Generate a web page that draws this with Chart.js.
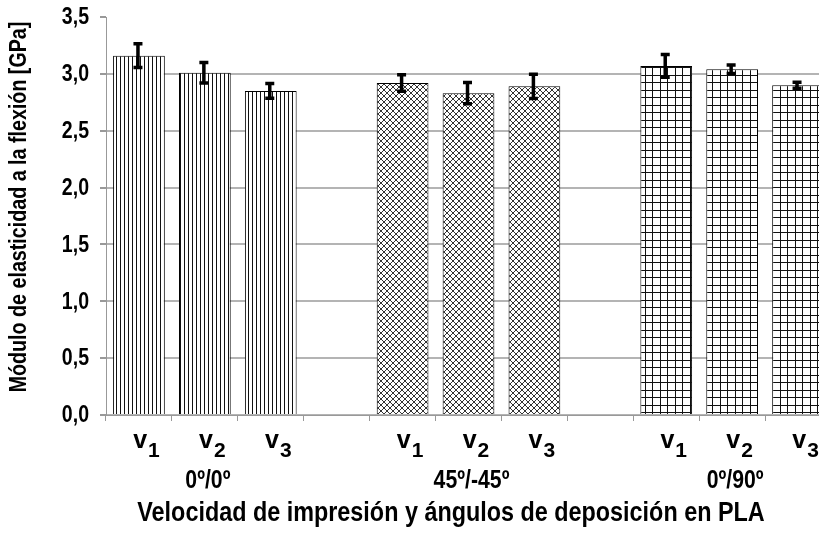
<!DOCTYPE html>
<html>
<head>
<meta charset="utf-8">
<script src="https://cdn.jsdelivr.net/npm/chart.js@4.4.0/dist/chart.umd.min.js"></script>
<style>
    html, body { margin: 0; padding: 0; background: #fff; overflow: hidden; }
    #marco { width: 840px; height: 537px; }
</style>
</head>
<body>
<div id="marco"><canvas id="grafico" width="840" height="537"></canvas></div>
<script>
// categorias del eje x (vacias = separacion entre grupos)
var categorias = ['v1', 'v2', 'v3', '', 'v1', 'v2', 'v3', '', 'v1', 'v2', 'v3'];
var grupos = ['0º/0º', '45º/-45º', '0º/90º'];
var centroGrupos = [1, 5, 9];
// modulo medio [GPa] y desviacion
var modulo = [3.16, 3.01, 2.85, null, 2.92, 2.83, 2.89, null, 3.07, 3.04, 2.90];
var desviacion = [0.105, 0.09, 0.065, null, 0.073, 0.093, 0.107, null, 0.10, 0.037, 0.027];
var ticksY = [0, 0.5, 1, 1.5, 2, 2.5, 3, 3.5];
var tituloY = 'Módulo de elasticidad a la flexión [GPa]';
var tituloX = 'Velocidad de impresión y ángulos de deposición en PLA';

var fuente = '"Liberation Sans", Arial, sans-serif';

function trama(tipo) {
    var c = document.createElement('canvas');
    var g = c.getContext('2d');
    if (tipo == 'vertical') {
        c.width = 4; c.height = 4;
        g.fillStyle = '#fff'; g.fillRect(0, 0, 4, 4);
        g.fillStyle = '#111'; g.fillRect(0, 0, 1, 4);
    } else if (tipo == 'cruzada') {
        c.width = 6; c.height = 6;
        g.fillStyle = '#fff'; g.fillRect(0, 0, 6, 6);
        g.fillStyle = '#333';
        for (var i = 0; i < 6; i++) {
            g.fillRect(i, i, 1, 1);
            g.fillRect(5 - i, i, 1, 1);
        }
    } else {
        c.width = 15; c.height = 15;
        g.fillStyle = '#fff'; g.fillRect(0, 0, 15, 15);
        g.fillStyle = '#111';
        g.fillRect(0, 0, 1, 15); g.fillRect(7, 0, 1, 15);
        g.fillRect(0, 0, 15, 1); g.fillRect(0, 7, 15, 1);
    }
    return g.createPattern(c, 'repeat');
}

var tipos = ['vertical', 'cruzada', 'cuadricula'];
var rellenos = categorias.map(function(c, i) {
    return trama(tipos[Math.floor(i / 4)]);
});

// texto algo estrecho, como la letra condensada de la figura original
function texto(ctx, txt, x, y, alin, escala) {
    ctx.save();
    ctx.translate(x, y);
    ctx.scale(escala, 1);
    ctx.textAlign = alin;
    ctx.fillText(txt, 0, 0);
    ctx.restore();
}

var barrasError = {
    id: 'barrasError',
    afterDatasetsDraw: function(chart) {
        var ctx = chart.ctx;
        var y = chart.scales.y;
        var meta = chart.getDatasetMeta(0);
        ctx.save();
        ctx.strokeStyle = '#000';
        ctx.lineWidth = 3.5;
        meta.data.forEach(function(barra, i) {
            if (modulo[i] == null) return;
            var arriba = y.getPixelForValue(modulo[i] + desviacion[i]);
            var abajo = y.getPixelForValue(modulo[i] - desviacion[i]);
            var x = barra.x - 1;
            ctx.beginPath();
            ctx.moveTo(x, arriba); ctx.lineTo(x, abajo);
            ctx.moveTo(x - 4.5, arriba); ctx.lineTo(x + 4.5, arriba);
            ctx.moveTo(x - 4.5, abajo); ctx.lineTo(x + 4.5, abajo);
            ctx.stroke();
        });
        ctx.restore();
    }
};

var textos = {
    id: 'textos',
    afterDraw: function(chart) {
        var ctx = chart.ctx;
        var x = chart.scales.x;
        var y = chart.scales.y;
        var base = x.top;
        ctx.save();
        ctx.fillStyle = '#000';

        // etiquetas del eje y
        ctx.textBaseline = 'middle';
        ctx.font = 'bold 23px ' + fuente;
        ticksY.forEach(function(v) {
            texto(ctx, v.toFixed(1).replace('.', ','), y.right - 17, y.getPixelForValue(v) + 1, 'right', 0.85);
        });

        // titulo del eje y
        ctx.save();
        ctx.translate(19, 207);
        ctx.rotate(-Math.PI / 2);
        ctx.font = 'bold 24px ' + fuente;
        texto(ctx, tituloY, 0, 0, 'center', 0.82);
        ctx.restore();

        // velocidades con subindice
        ctx.textBaseline = 'alphabetic';
        categorias.forEach(function(cat, i) {
            if (!cat) return;
            var cx = x.getPixelForValue(i);
            ctx.font = 'bold 25px ' + fuente;
            var wv = ctx.measureText(cat.charAt(0)).width;
            ctx.font = 'bold 21px ' + fuente;
            var ws = ctx.measureText(cat.slice(1)).width;
            var inicio = cx + 7 - (wv + ws) / 2;
            ctx.font = 'bold 25px ' + fuente;
            texto(ctx, cat.charAt(0), inicio, base + 33, 'left', 1);
            ctx.font = 'bold 21px ' + fuente;
            texto(ctx, cat.slice(1), inicio + wv + 1, base + 42, 'left', 1);
        });

        // angulos de deposicion
        ctx.font = 'bold 25px ' + fuente;
        grupos.forEach(function(g, k) {
            texto(ctx, g, x.getPixelForValue(centroGrupos[k]) + 3, base + 73, 'center', 0.85);
        });

        // titulo del eje x
        ctx.font = 'bold 27.5px ' + fuente;
        texto(ctx, tituloX, 451, base + 106, 'center', 0.85);
        ctx.restore();
    }
};

new Chart(document.getElementById('grafico'), {
    type: 'bar',
    data: {
        labels: categorias,
        datasets: [{
            data: modulo,
            backgroundColor: rellenos,
            borderColor: '#000',
            borderWidth: 1,
            barPercentage: 0.785,
            categoryPercentage: 1
        }]
    },
    options: {
        responsive: false,
        animation: false,
        layout: { padding: { left: 6, right: 9, top: 17, bottom: 0 } },
        plugins: {
            legend: { display: false },
            tooltip: { enabled: false }
        },
        scales: {
            x: {
                ticks: { display: false },
                grid: { drawOnChartArea: false, tickLength: 6, tickColor: '#999', offset: true },
                border: { color: '#999' },
                afterFit: function(s) { s.height = 122; }
            },
            y: {
                min: 0,
                max: 3.5,
                afterBuildTicks: function(s) {
                    s.ticks = ticksY.map(function(v) { return { value: v }; });
                },
                ticks: { display: false },
                grid: {
                    color: function(c) { return c.tick && c.tick.value == 3.5 ? 'rgba(0,0,0,0)' : '#b4b4b4'; },
                    tickColor: '#999',
                    tickLength: 6,
                    lineWidth: 2
                },
                border: { color: '#999', width: 1 },
                afterFit: function(s) { s.width = 100; }
            }
        }
    },
    plugins: [barrasError, textos]
});
</script>
</body>
</html>
